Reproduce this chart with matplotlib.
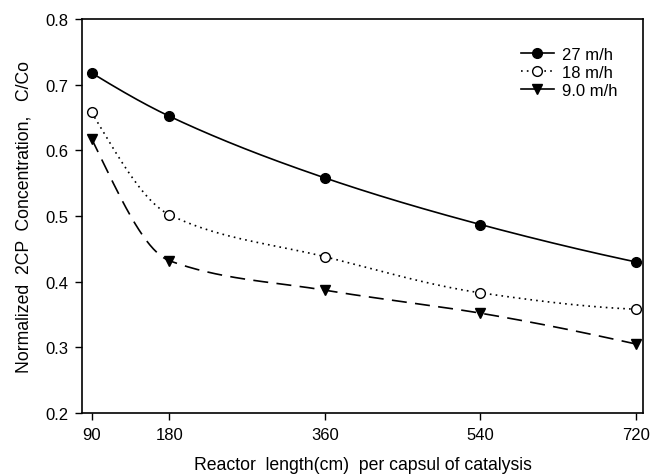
import numpy as np
import matplotlib
matplotlib.use("Agg")
import matplotlib.pyplot as plt

plt.rcParams['font.family'] = ['Liberation Sans', 'DejaVu Sans']

lengths = [90, 180, 360, 540, 720]
series_names = ["27 m/h", "18 m/h", "9.0 m/h"]
c27 = [0.718, 0.652, 0.558, 0.487, 0.430]
c18 = [0.658, 0.502, 0.438, 0.383, 0.358]
c9 = [0.618, 0.432, 0.387, 0.352, 0.305]
x_ticks = [90, 180, 360, 540, 720]
y_ticks = [0.2, 0.3, 0.4, 0.5, 0.6, 0.7, 0.8]


def pchip(x, y, n=300):
    """Monotone cubic (Fritsch-Carlson) curve through the data points."""
    x = np.asarray(x, float)
    y = np.asarray(y, float)
    h = np.diff(x)
    d = np.diff(y) / h
    k = len(x)
    m = np.zeros(k)
    for i in range(1, k - 1):
        if d[i - 1] * d[i] <= 0:
            m[i] = 0
        else:
            w1 = 2 * h[i] + h[i - 1]
            w2 = h[i] + 2 * h[i - 1]
            m[i] = (w1 + w2) / (w1 / d[i - 1] + w2 / d[i])
    m[0] = ((2 * h[0] + h[1]) * d[0] - h[0] * d[1]) / (h[0] + h[1])
    if np.sign(m[0]) != np.sign(d[0]):
        m[0] = 0
    elif np.sign(d[0]) != np.sign(d[1]) and abs(m[0]) > abs(3 * d[0]):
        m[0] = 3 * d[0]
    m[-1] = ((2 * h[-1] + h[-2]) * d[-1] - h[-1] * d[-2]) / (h[-1] + h[-2])
    if np.sign(m[-1]) != np.sign(d[-1]):
        m[-1] = 0
    elif np.sign(d[-1]) != np.sign(d[-2]) and abs(m[-1]) > abs(3 * d[-1]):
        m[-1] = 3 * d[-1]
    xs = np.linspace(x[0], x[-1], n)
    ys = np.empty_like(xs)
    for j, xv in enumerate(xs):
        i = min(np.searchsorted(x, xv, side='right') - 1, k - 2)
        t = (xv - x[i]) / h[i]
        h00 = 2 * t ** 3 - 3 * t ** 2 + 1
        h10 = t ** 3 - 2 * t ** 2 + t
        h01 = -2 * t ** 3 + 3 * t ** 2
        h11 = t ** 3 - t ** 2
        ys[j] = h00 * y[i] + h10 * h[i] * m[i] + h01 * y[i + 1] + h11 * h[i] * m[i + 1]
    return xs, ys


fig = plt.figure(figsize=(6.51, 4.77), dpi=100)
ax = fig.add_axes([82 / 651, 1 - 414 / 477, (643 - 82) / 651, (414 - 20) / 477])

styles = [
    dict(ls='-', marker='o', mfc='black', mec='black', ms=7),
    dict(ls=(0, (1, 2.5)), marker='o', mfc='white', mec='black', ms=7),
    dict(ls=(0, (9, 5)), marker='v', mfc='black', mec='black', ms=7),
]
for name, vals, st in zip(series_names, [c27, c18, c9], styles):
    xs, ys = pchip(lengths, vals)
    ax.plot(xs, ys, color='black', lw=1.2, ls=st['ls'])
    ax.plot(lengths, vals, ls='none', marker=st['marker'], mfc=st['mfc'],
            mec=st['mec'], ms=st['ms'], mew=1.0, zorder=3)
    ax.plot([], [], color='black', lw=1.2, ls='-' if st['ls'] != (0, (1, 2.5)) else st['ls'],
            marker=st['marker'], mfc=st['mfc'], mec=st['mec'], ms=st['ms'], label=name)

ax.set_xlim(79, 728)
ax.set_ylim(0.2, 0.8)
ax.set_xticks(x_ticks)
ax.set_yticks(y_ticks)
ax.set_yticklabels([f"{v:.1f}" for v in y_ticks])
ax.tick_params(direction='out', length=5, width=1, labelsize=12, colors='black', pad=5)
for s in ax.spines.values():
    s.set_linewidth(1.2)

ax.set_xlabel("Reactor  length(cm)  per capsul of catalysis", fontsize=12.7, labelpad=10)
ax.set_ylabel("Normalized  2CP  Concentration,   C/Co", fontsize=12.7, labelpad=9)

leg = ax.legend(loc='upper right', bbox_to_anchor=(0.982, 0.968), frameon=False,
                fontsize=12, handlelength=2.0, handletextpad=0.5, labelspacing=0.2)

fig.savefig("out.png", dpi=100)
